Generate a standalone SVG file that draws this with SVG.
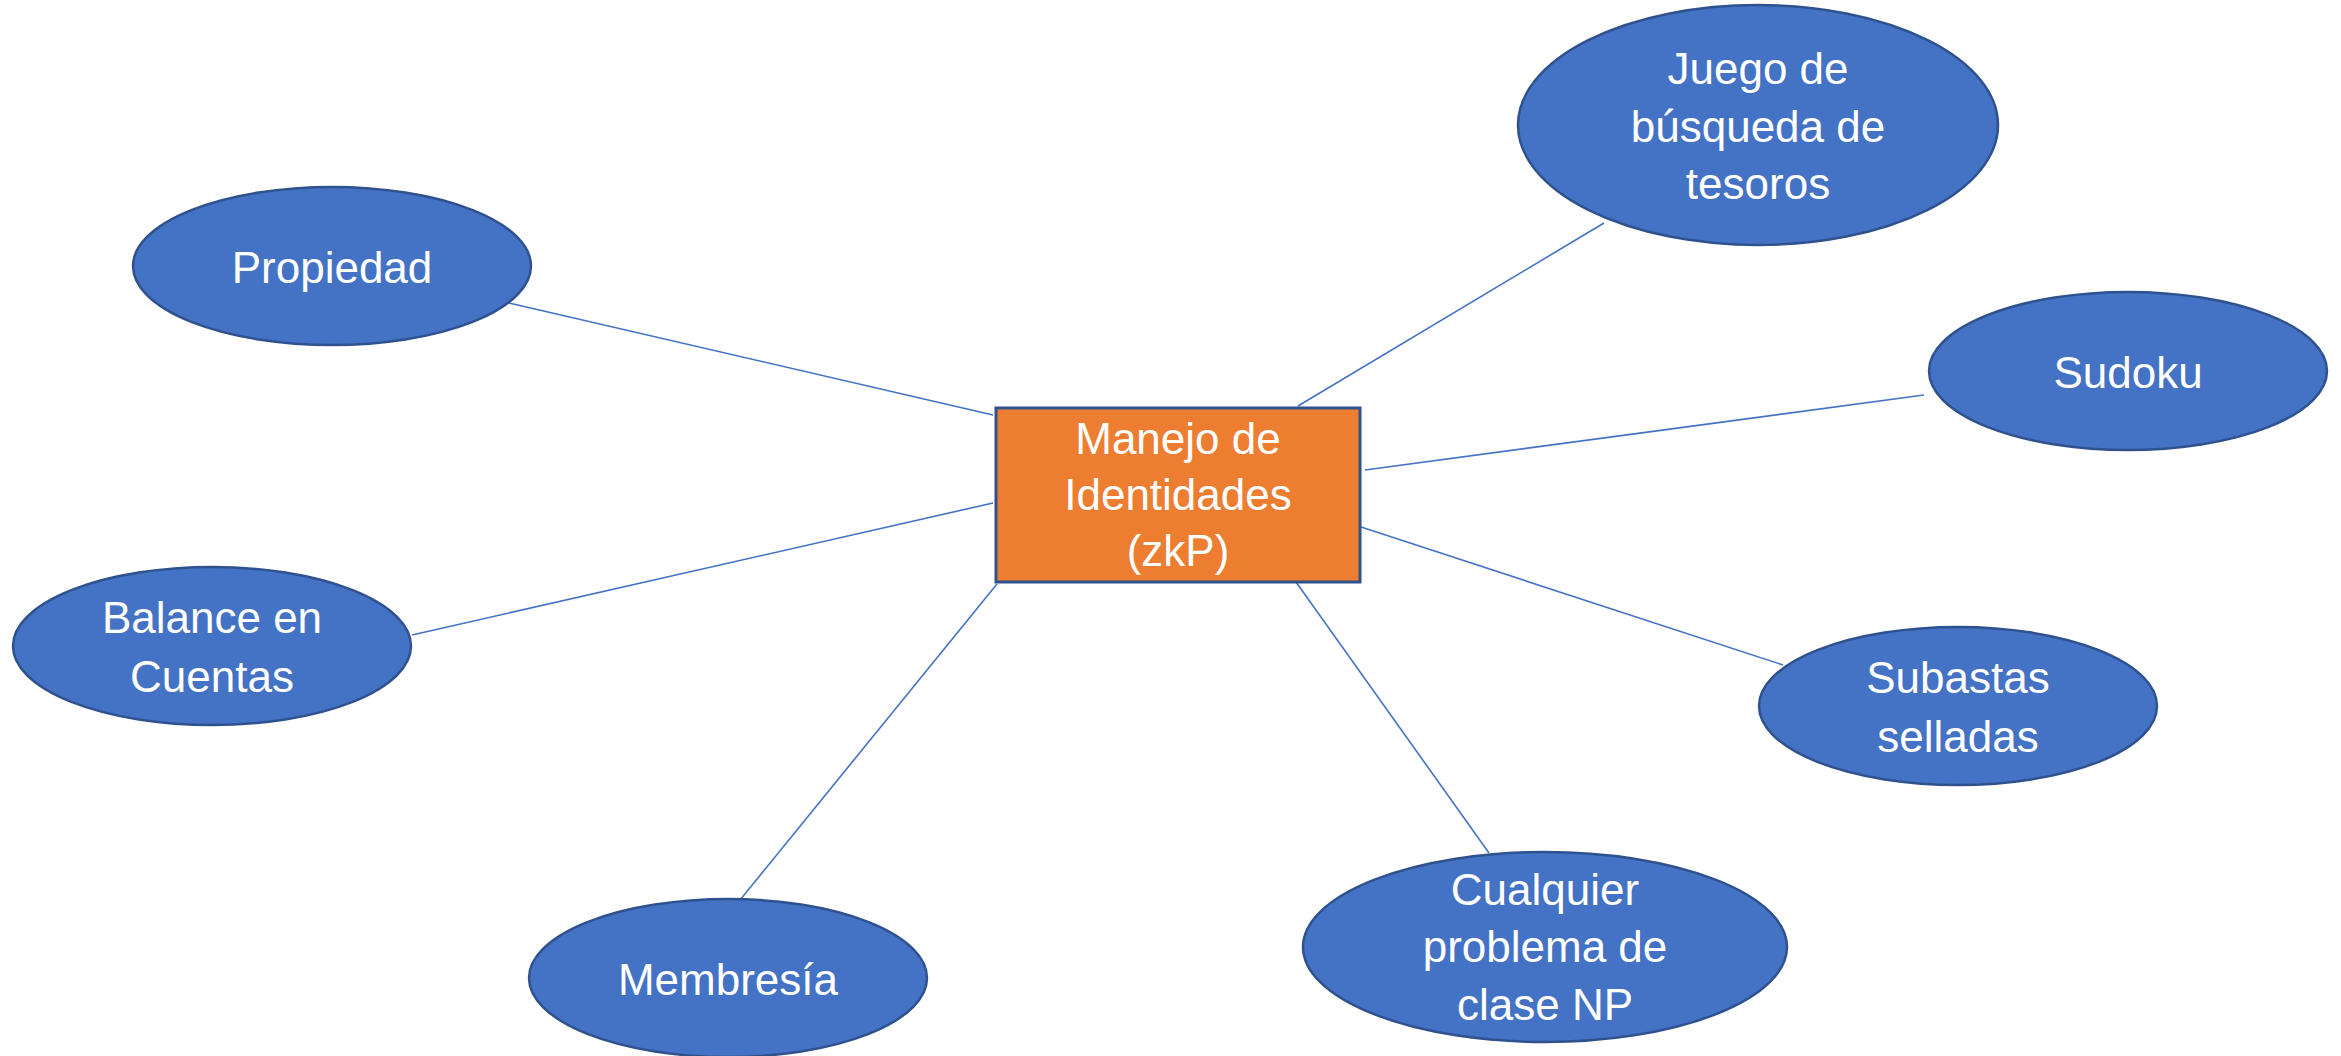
<svg xmlns="http://www.w3.org/2000/svg" width="2341" height="1056" viewBox="0 0 2341 1056">
<style>
.edge{stroke:#4472C4;stroke-width:1.6;fill:none}
.oval{fill:#4472C4;stroke:#2F528F;stroke-width:2.5}
.box{fill:#ED7D31;stroke:#2F528F;stroke-width:3}
.lbl{font-family:"Liberation Sans",Arial,sans-serif;font-size:44px;fill:#FFFFFF;text-anchor:middle}
</style>
<rect width="2341" height="1056" fill="#FFFFFF"/>
<g id="connectors">
<line class="edge" x1="509" y1="303" x2="993" y2="415"/>
<line class="edge" x1="1604" y1="223" x2="1298" y2="406"/>
<line class="edge" x1="1924" y1="395" x2="1365" y2="470"/>
<line class="edge" x1="1358" y1="526" x2="1783" y2="665"/>
<line class="edge" x1="1296" y1="582" x2="1489" y2="853"/>
<line class="edge" x1="997" y1="584" x2="740" y2="900"/>
<line class="edge" x1="993" y1="503" x2="412" y2="635"/>
</g>
<g id="center">
<rect class="box" x="996" y="408" width="364" height="174"/>
<text class="lbl" x="1178" y="454">Manejo de</text>
<text class="lbl" x="1178" y="510">Identidades</text>
<text class="lbl" x="1178" y="566">(zkP)</text>
</g>
<g id="propiedad">
<ellipse class="oval" cx="332" cy="266" rx="199" ry="79"/>
<text class="lbl" x="332" y="283">Propiedad</text>
</g>
<g id="juego">
<ellipse class="oval" cx="1758" cy="125" rx="240" ry="120"/>
<text class="lbl" x="1758" y="84">Juego de</text>
<text class="lbl" x="1758" y="142">búsqueda de</text>
<text class="lbl" x="1758" y="199">tesoros</text>
</g>
<g id="sudoku">
<ellipse class="oval" cx="2128" cy="371" rx="199" ry="79"/>
<text class="lbl" x="2128" y="388">Sudoku</text>
</g>
<g id="balance">
<ellipse class="oval" cx="212" cy="646" rx="199" ry="79"/>
<text class="lbl" x="212" y="633">Balance en</text>
<text class="lbl" x="212" y="692">Cuentas</text>
</g>
<g id="subastas">
<ellipse class="oval" cx="1958" cy="706" rx="199" ry="79"/>
<text class="lbl" x="1958" y="693">Subastas</text>
<text class="lbl" x="1958" y="752">selladas</text>
</g>
<g id="cualquier">
<ellipse class="oval" cx="1545" cy="947" rx="242" ry="95"/>
<text class="lbl" x="1545" y="905">Cualquier</text>
<text class="lbl" x="1545" y="962">problema de</text>
<text class="lbl" x="1545" y="1020">clase NP</text>
</g>
<g id="membresia">
<ellipse class="oval" cx="728" cy="978" rx="199" ry="79"/>
<text class="lbl" x="728" y="995">Membresía</text>
</g>
</svg>
